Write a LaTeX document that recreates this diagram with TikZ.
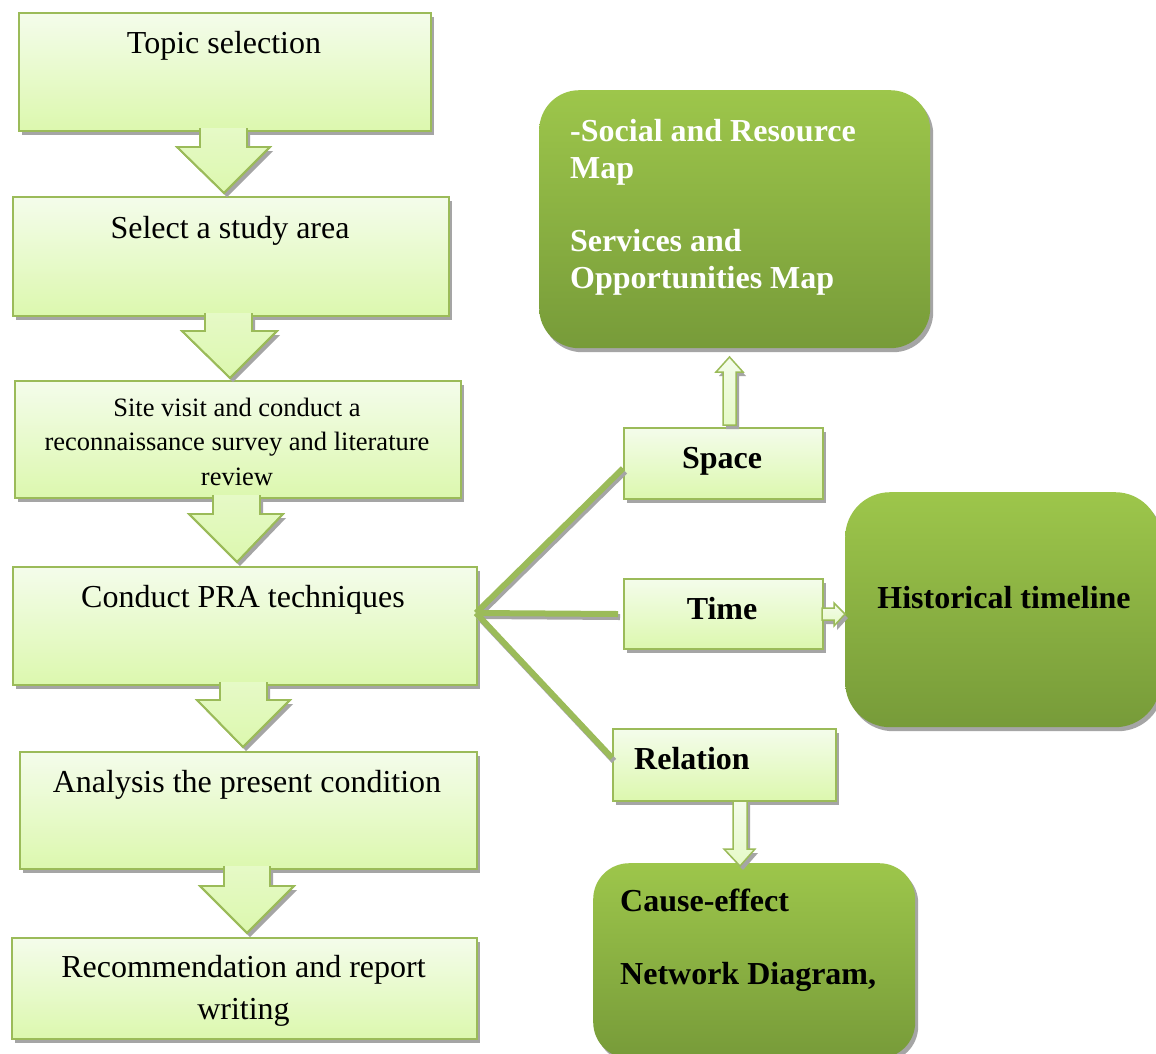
\documentclass[tikz,border=0pt]{standalone}
\usepackage{fontspec}
\setmainfont{Liberation Serif}
\usetikzlibrary{shadows,calc}
\definecolor{lgb}{HTML}{9BBB59}
\definecolor{ltop}{HTML}{F4FCEB}
\definecolor{lbot}{HTML}{DCF8AE}
\definecolor{dtop}{HTML}{9DC64B}
\definecolor{dbot}{HTML}{779B39}
\definecolor{shg}{HTML}{A5A5A5}
\tikzset{
 shd/.style={drop shadow={shadow xshift=3pt,shadow yshift=-4pt,fill=shg,opacity=1}},
 lbox/.style={shd, draw=lgb, line width=1.8pt, top color=ltop, bottom color=lbot, inner sep=0pt, anchor=north west, rectangle},
 dbox/.style={shd, top color=dtop, bottom color=dbot, inner sep=0pt, anchor=north west, rounded corners=40pt, rectangle},
 blk/.style={shd, draw=lgb, line width=1.8pt, top color=ltop!40!lbot, bottom color=lbot, line join=miter},
 hol/.style={shd, draw=lgb, line width=1.5pt, top color=ltop, bottom color=lbot!60!ltop, line join=miter},
 conn/.style={draw=lgb, line width=6pt},
 connsh/.style={draw=shg, line width=6pt, transform canvas={shift={(2pt,-3pt)}}},
 txt/.style={font=\fontsize{32}{37}\selectfont, inner sep=0pt, anchor=base},
 btxt/.style={font=\fontsize{32}{37}\selectfont\bfseries, inner sep=0pt, anchor=base},
}
\begin{document}
\begin{tikzpicture}[x=1pt,y=-1pt]
\clip (0,0) rectangle (1156,1053);
\fill[white] (0,0) rectangle (1156,1053);

% left column boxes
\node[lbox, minimum width=412, minimum height=118] (b1) at (18,12) {};
\node[lbox, minimum width=436, minimum height=119] (b2) at (12,196) {};
\node[lbox, minimum width=446, minimum height=117] (b3) at (14,380) {};
\node[lbox, minimum width=464, minimum height=118] (b4) at (12,566) {};
\node[lbox, minimum width=457, minimum height=117] (b5) at (19,751) {};
\node[lbox, minimum width=465, minimum height=101] (b6) at (11,937) {};

% block arrows
\path[blk] (200,128) -- (200,147) -- (177,147) -- (224,193) -- (270,147) -- (247,147) -- (247,128);
\draw[draw=lgb, line width=1.8pt] (200,128) -- (200,147) -- (177,147) -- (224,193) -- (270,147) -- (247,147) -- (247,128);
\path[blk] (205,313) -- (205,331) -- (182,331) -- (230,378) -- (277,331) -- (252,331) -- (252,313);
\draw[draw=lgb, line width=1.8pt] (205,313) -- (205,331) -- (182,331) -- (230,378) -- (277,331) -- (252,331) -- (252,313);
\path[blk] (213,495) -- (213,514) -- (189,514) -- (237,562) -- (283,514) -- (260,514) -- (260,495);
\draw[draw=lgb, line width=1.8pt] (213,495) -- (213,514) -- (189,514) -- (237,562) -- (283,514) -- (260,514) -- (260,495);
\path[blk] (220,682) -- (220,700) -- (197,700) -- (243,747) -- (290,700) -- (267,700) -- (267,682);
\draw[draw=lgb, line width=1.8pt] (220,682) -- (220,700) -- (197,700) -- (243,747) -- (290,700) -- (267,700) -- (267,682);
\path[blk] (224,866) -- (224,886) -- (200,886) -- (247,933) -- (294,886) -- (270,886) -- (270,866);
\draw[draw=lgb, line width=1.8pt] (224,866) -- (224,886) -- (200,886) -- (247,933) -- (294,886) -- (270,886) -- (270,866);

% left texts
\node[txt] (t1) at (224,53) {Topic selection};
\node[txt] (t2) at (230,238) {Select a study area};
\node[txt, align=center, font=\fontsize{26.5}{34.5}\selectfont] (t3) at (237,485) {Site visit and conduct a\\reconnaissance survey and literature\\review};
\node[txt] (t4) at (243,607) {Conduct PRA techniques};
\node[txt] (t5) at (247,792) {Analysis the present condition};
\node[txt, align=center, font=\fontsize{32}{42}\selectfont] (t6) at (243.5,1019) {Recommendation and report\\writing};

% right: category boxes
\node[lbox, minimum width=199, minimum height=71] (space) at (623,427) {};
\node[lbox, minimum width=199, minimum height=70] (time) at (623,578) {};
\node[lbox, minimum width=223, minimum height=72] (relation) at (612,728) {};
\node[btxt] (tsp) at (722,468) {Space};
\node[btxt] (tti) at (722,619) {Time};
\node[btxt, anchor=base west] (tre) at (634,769) {Relation};

% connectors
\coordinate (hub) at (476,613);
\coordinate (tend) at (618,614);
\draw[connsh] (hub) -- ($(space.west)+(0,5)$);
\draw[connsh] (hub) -- (tend);
\draw[connsh] (hub) -- ($(relation.west)+(0,-7)$);
\draw[conn] (hub) -- ($(space.west)+(0,5)$);
\draw[conn] (hub) -- (tend);
\draw[conn] (hub) -- ($(relation.west)+(0,-7)$);

% dark result boxes
\node[dbox, minimum width=391, minimum height=258] (social) at (539,90) {};
\node[dbox, rounded corners=45pt, minimum width=315, minimum height=235] (hist) at (845,492) {};
\node[dbox, rounded corners=36pt, minimum width=322, minimum height=195] (cause) at (593,863) {};

\node[btxt, white, align=left, anchor=base west] (tso) at (570,288) {-Social and Resource\\Map\\[36pt]Services and\\Opportunities Map};
\node[btxt] (thi) at (1004,608) {Historical timeline};
\node[btxt, align=left, anchor=base west] (tca) at (620,984) {Cause-effect\\[36pt]Network Diagram,};

% hollow arrows
\draw[hol] (723,425) -- (723,372) -- (716,372) -- (729.5,357) -- (743,372) -- (736,372) -- (736,425) -- cycle;
\draw[hol] (822,608) -- (834,608) -- (834,603) -- (845,614) -- (834,626) -- (834,620) -- (822,620) -- cycle;
\draw[hol] (733,801) -- (733,849) -- (724,849) -- (740,866) -- (755,849) -- (747,849) -- (747,801) -- cycle;
\end{tikzpicture}
\end{document}
